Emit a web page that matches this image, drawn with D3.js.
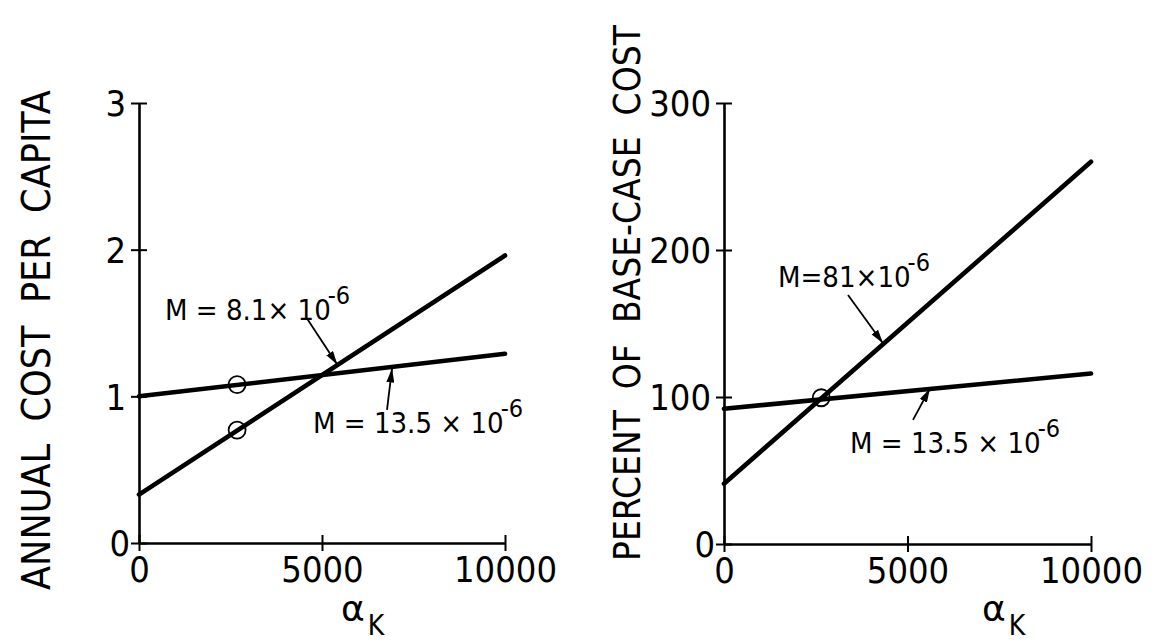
<!DOCTYPE html>
<html>
<head>
<meta charset="utf-8">
<script src="https://cdn.jsdelivr.net/npm/d3@7"></script>
<style>
  html, body { margin: 0; padding: 0; background: #fff; }
  svg { display: block; }
  text { font-family: "Liberation Sans Narrow", "DejaVu Sans Condensed", "Roboto Condensed", sans-serif; fill: #000; white-space: pre; }
</style>
</head>
<body>
<svg id="chart" width="1170" height="642"></svg>
<script>
// ---- data ----
const xTicks = [0, 5000, 10000];
const xDomain = [0, 10000];

// Left panel: annual cost per capita
const leftYTicks = [0, 1, 2, 3];
const leftSteep = [[0, 0.33], [10000, 1.96]];   // M = 8.1e-6
const leftFlat  = [[0, 1.00], [10000, 1.29]];   // M = 13.5e-6
const leftPoints = [[2680, 1.08], [2680, 0.77]];

// Right panel: percent of base-case cost
const rightYTicks = [0, 100, 200, 300];
const rightSteep = [[0, 41], [10000, 260]];     // M = 81e-6
const rightFlat  = [[0, 92], [10000, 116]];     // M = 13.5e-6
const rightPoints = [[2650, 99.5]];

// Annotation labels: text anchor, arrow tail, arrow tip (data units)
const leftNotes = [
  { main: "M = 8.1\u00d7 10", exp: "-6", at: [710, 1.52], tail: [4590, 1.53], tip: [5420, 1.215] },
  { main: "M = 13.5 \u00d7 10", exp: "-6", at: [4754, 0.75], tail: [6776, 0.907], tip: [6913, 1.19] }
];
const rightNotes = [
  { main: "M=81\u00d710", exp: "-6", at: [1471, 174.8], tail: [3379, 169.4], tip: [4332, 136.5] },
  { main: "M = 13.5 \u00d7 10", exp: "-6", at: [3433, 61.9], tail: [5150, 84.4], tip: [5613, 105.8] }
];

const svg = d3.select("#chart");

svg.append("defs").append("marker")
  .attr("id", "head")
  .attr("viewBox", "0 0 14 8")
  .attr("refX", 14).attr("refY", 4)
  .attr("markerUnits", "userSpaceOnUse")
  .attr("markerWidth", 14).attr("markerHeight", 8)
  .attr("orient", "auto")
  .append("path").attr("d", "M0,0 L14,4 L0,8 Z").attr("fill", "#000");

function panel(cfg) {
  const x = d3.scaleLinear().domain(xDomain).range(cfg.xRange);
  const y = d3.scaleLinear().domain(cfg.yDomain).range(cfg.yRange);
  const g = svg.append("g");

  // y axis with ticks crossing the spine
  const ya = g.append("g")
    .attr("transform", `translate(${cfg.xRange[0]},0)`)
    .call(d3.axisLeft(y).tickValues(cfg.yTicks).tickFormat(d3.format("d"))
      .tickSize(8).tickSizeOuter(0).tickPadding(14));
  ya.select(".domain").attr("stroke-width", 2.6);
  ya.selectAll(".tick line").attr("x1", -8).attr("x2", 8).attr("stroke-width", 2);
  ya.selectAll(".tick text").attr("font-size", 36).attr("dy", "0.36em").attr("x", -13);
  ya.selectAll(".tick").filter(d => d === 0).select("text").attr("x", -9);

  // x axis
  const xa = g.append("g")
    .attr("transform", `translate(0,${cfg.yRange[0]})`)
    .call(d3.axisBottom(x).tickValues(xTicks).tickFormat(d3.format("d"))
      .tickSize(8).tickSizeOuter(0).tickPadding(14));
  xa.select(".domain").attr("stroke-width", 2.6);
  xa.selectAll(".tick line").attr("y1", -8).attr("y2", 8).attr("stroke-width", 2);
  xa.selectAll(".tick text").attr("font-size", 36).attr("dy", "0.72em").attr("y", 13);
  g.selectAll(".domain").attr("stroke", "#000");
  g.selectAll(".tick line").attr("stroke", "#000");

  // lines
  const line = d3.line().x(d => x(d[0])).y(d => y(d[1]));
  [cfg.steep, cfg.flat].forEach(s => {
    g.append("path").datum(s)
      .attr("d", line)
      .attr("fill", "none").attr("stroke", "#000")
      .attr("stroke-width", 4.6).attr("stroke-linecap", "round");
  });

  // marked points
  g.selectAll("circle.pt").data(cfg.points).join("circle")
    .attr("class", "pt")
    .attr("cx", d => x(d[0])).attr("cy", d => y(d[1]))
    .attr("r", 8.5).attr("fill", "none").attr("stroke", "#000").attr("stroke-width", 1.8);

  // annotations
  cfg.notes.forEach(n => {
    const t = g.append("text")
      .attr("x", x(n.at[0])).attr("y", y(n.at[1]))
      .attr("font-size", 29);
    t.append("tspan").text(n.main);
    t.append("tspan").attr("font-size", 25).attr("dy", -16).attr("dx", -3).text(n.exp);
    g.append("line")
      .attr("x1", x(n.tail[0])).attr("y1", y(n.tail[1]))
      .attr("x2", x(n.tip[0])).attr("y2", y(n.tip[1]))
      .attr("stroke", "#000").attr("stroke-width", 1.8)
      .attr("marker-end", "url(#head)");
  });

  // axis titles: shrink the font if needed, then spread letters to the span
  const title = g.append("text")
    .attr("transform", `translate(${cfg.titleX},${cfg.titleY}) rotate(-90)`)
    .attr("font-size", 40)
    .text(cfg.title);
  const natural = title.node().getComputedTextLength();
  if (natural > cfg.titleLen) {
    title.attr("font-size", 40 * cfg.titleLen / natural);
  } else {
    title.attr("textLength", cfg.titleLen).attr("lengthAdjust", "spacing");
  }

  const xt = g.append("text")
    .attr("x", cfg.xTitleX).attr("y", 621);
  xt.append("tspan").attr("font-family", "DejaVu Sans").attr("font-size", 36).text("\u03b1");
  xt.append("tspan").attr("font-size", 28).attr("dy", 14).attr("dx", 3).text("K");
}

panel({
  xRange: [139, 505], yRange: [543, 103], yDomain: [0, 3],
  yTicks: leftYTicks, steep: leftSteep, flat: leftFlat, points: leftPoints,
  notes: leftNotes, title: "ANNUAL  COST  PER  CAPITA",
  titleX: 50, titleY: 590, titleLen: 500, xTitleX: 341
});

panel({
  xRange: [724, 1091], yRange: [544, 103], yDomain: [0, 300],
  yTicks: rightYTicks, steep: rightSteep, flat: rightFlat, points: rightPoints,
  notes: rightNotes, title: "PERCENT  OF  BASE-CASE  COST",
  titleX: 640, titleY: 561, titleLen: 536, xTitleX: 982
});
</script>
</body>
</html>
